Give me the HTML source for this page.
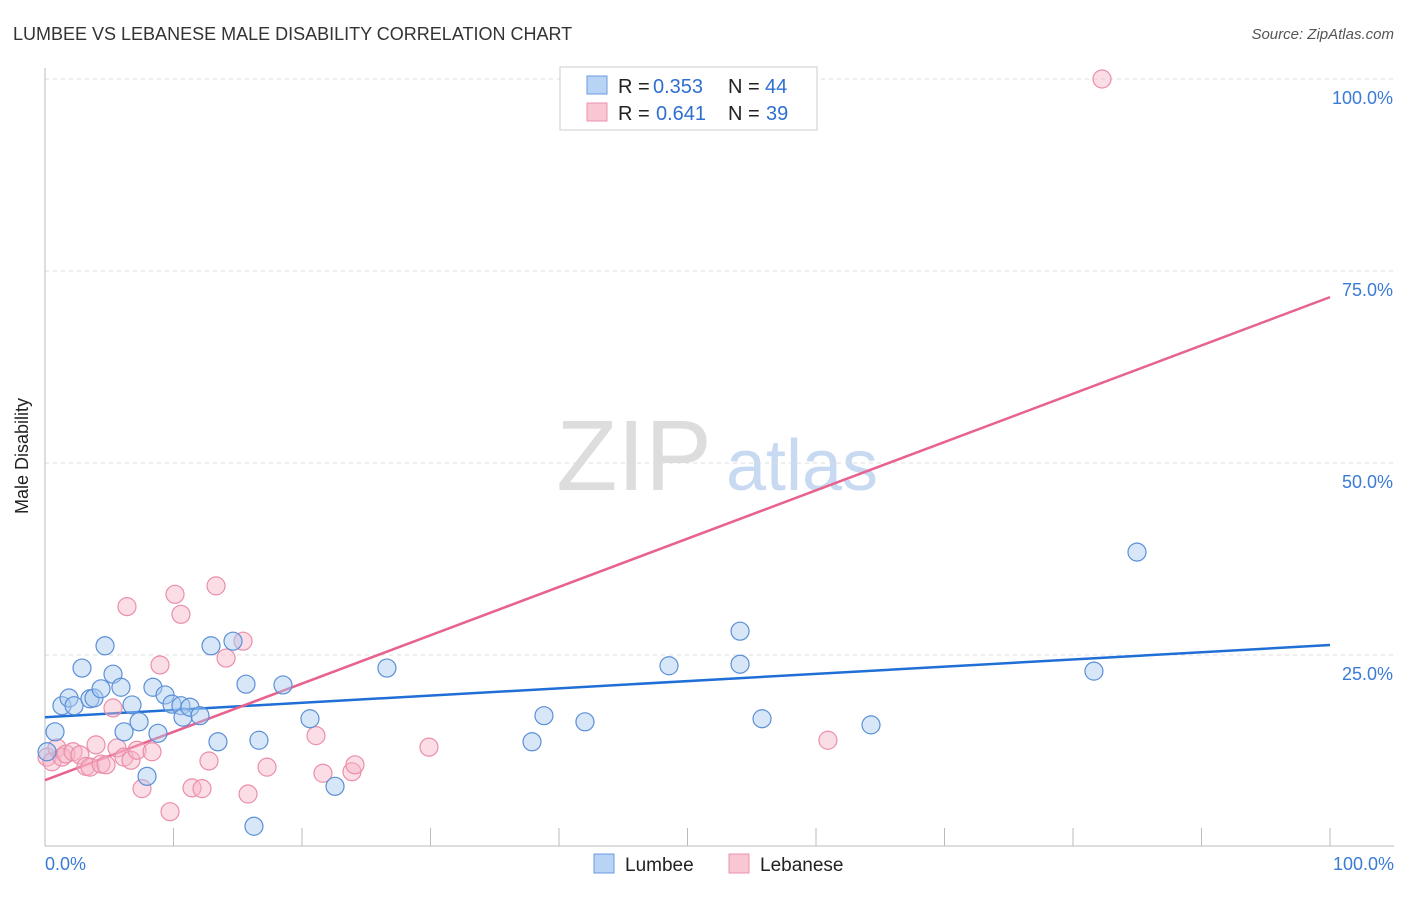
<!DOCTYPE html>
<html><head><meta charset="utf-8"><style>
body{margin:0;background:#fff;font-family:"Liberation Sans",sans-serif}
svg text{font-family:"Liberation Sans",sans-serif}
</style></head><body>
<svg id="chart" width="1406" height="892" xmlns="http://www.w3.org/2000/svg">
<text x="13" y="40" font-size="18" fill="#333">LUMBEE VS LEBANESE MALE DISABILITY CORRELATION CHART</text>
<text x="1394" y="39" font-size="15" fill="#555" text-anchor="end" font-style="italic">Source: ZipAtlas.com</text>
<text x="28" y="456" font-size="18" fill="#222" text-anchor="middle" transform="rotate(-90 28 456)">Male Disability</text>
<g>
<text x="634" y="490" font-size="100" fill="#ddd" font-family="Liberation Serif" text-anchor="middle">ZIP</text>
<text x="802" y="490" font-size="72" fill="#c8daf2" text-anchor="middle">atlas</text>
</g>
<g id="grid"></g><g id="axes"></g><g id="lines"></g><g id="pts"></g>
<g>
<rect x="560" y="67" width="257" height="63" fill="#fff" stroke="#ccc"/>
<rect x="587" y="76" width="20" height="18" fill="#b8d3f4" stroke="#6a9be0"/>
<rect x="587" y="103" width="20" height="18" fill="#f9c6d4" stroke="#ec93ad"/>
<text x="618" y="93" font-size="20" fill="#222">R =</text>
<text x="653" y="93" font-size="20" fill="#2f6fd0">0.353</text>
<text x="728" y="93" font-size="20" fill="#222">N =</text>
<text x="765" y="93" font-size="20" fill="#2f6fd0">44</text>
<text x="618" y="120" font-size="20" fill="#222">R =</text>
<text x="656" y="120" font-size="20" fill="#2f6fd0">0.641</text>
<text x="728" y="120" font-size="20" fill="#222">N =</text>
<text x="766" y="120" font-size="20" fill="#2f6fd0">39</text>
</g>
<g>
<rect x="594" y="854" width="20" height="19" fill="#b8d3f4" stroke="#6a9be0"/>
<text x="625" y="871" font-size="19" fill="#222">Lumbee</text>
<rect x="729" y="854" width="20" height="19" fill="#f9c6d4" stroke="#ec93ad"/>
<text x="760" y="871" font-size="19" fill="#222">Lebanese</text>
</g>
</svg>
<script>
const yTicks=[25,50,75,100];
const yTickLabels=["25.0%","50.0%","75.0%","100.0%"];
const xTickLabels=["0.0%","100.0%"];
const lumbeeX=[0.16,0.78,1.32,1.87,2.26,2.88,3.5,3.81,4.36,4.67,5.29,5.91,6.15,6.77,7.32,7.94,8.4,8.79,9.34,9.88,10.58,10.74,11.28,12.06,12.92,13.46,14.63,15.64,16.26,16.65,18.52,20.62,22.57,26.61,37.9,38.83,42.02,48.56,54.09,54.09,55.8,64.28,81.63,84.98];
const lumbeeY=[12.4,15.0,18.4,19.4,18.4,23.3,19.3,19.4,20.6,26.2,22.5,20.8,15.0,18.5,16.3,9.2,20.8,14.8,19.8,18.6,18.4,16.9,18.2,17.1,26.2,13.7,26.8,21.2,2.7,13.9,21.1,16.7,7.9,23.3,13.7,17.1,16.3,23.6,28.1,23.8,16.7,15.9,22.9,38.4];
const lebX=[0.16,0.54,0.93,1.32,1.63,2.18,2.72,3.19,3.5,3.97,4.36,4.75,5.29,5.6,6.38,6.15,6.69,7.16,7.55,8.33,8.95,9.73,10.12,10.58,11.44,12.22,12.76,13.31,14.09,15.41,15.8,17.28,21.09,21.63,23.89,24.12,29.88,60.93,82.26];
const lebY=[11.7,11.1,12.9,11.7,12.1,12.4,12.0,10.5,10.4,13.3,10.8,10.7,18.1,12.9,31.3,11.7,11.3,12.6,7.6,12.4,23.7,4.6,32.9,30.3,7.7,7.6,11.2,34.0,24.6,26.8,6.9,10.4,14.5,9.6,9.8,10.7,13.0,13.9,100.0];
const lumbeeTrend=[16.9,26.3];
const lebTrend=[8.7,71.6];
const NS="http://www.w3.org/2000/svg";
const sx=v=>45+v*12.85, sy=v=>847-v*7.68;
function mk(tag,attrs,parent){const e=document.createElementNS(NS,tag);for(const k in attrs)e.setAttribute(k,attrs[k]);document.getElementById(parent).appendChild(e);return e;}
yTicks.forEach((t,i)=>{
  const g=mk('line',{x1:45,x2:1394,y1:sy(t),y2:sy(t),stroke:'#ddd','stroke-dasharray':'4,4'},'grid');
  
  
  const tx=mk('text',{x:1393,y:sy(t)+25,'font-size':18,fill:'#3a7bd5','text-anchor':'end'},'grid');
  tx.textContent=yTickLabels[i];
  
  
});
const ax=mk('line',{x1:45,x2:45,y1:68,y2:846,stroke:'#bbb'},'axes');


const bx=mk('line',{x1:45,x2:1394,y1:846,y2:846,stroke:'#bbb'},'axes');


for(let i=0;i<=10;i++){const t=mk('line',{x1:sx(i*10),x2:sx(i*10),y1:828,y2:846,stroke:'#bbb'},'axes');
  
  }
[[0,'start',45],[100,'end',1394]].forEach((d,i)=>{const t=mk('text',{x:d[2],y:870,'font-size':18,fill:'#3a7bd5','text-anchor':d[1]},'axes');t.textContent=xTickLabels[i];
  
  });
function pts(X,Y,fill,stroke,name){X.forEach((x,i)=>{const c=mk('circle',{cx:sx(x),cy:sy(Y[i]),r:9,fill:fill,'fill-opacity':0.45,stroke:stroke,'stroke-width':1.2},'pts');
  
  });}
pts(lebX,lebY,'#f6b3c6','#eb8ea9','lebanese-point');
pts(lumbeeX,lumbeeY,'#a9c9f0','#5b8fd8','lumbee-point');
const l1=mk('line',{x1:sx(0),y1:sy(lumbeeTrend[0]),x2:sx(100),y2:sy(lumbeeTrend[1]),stroke:'#1f6fd6','stroke-width':2.5},'lines');


const l2=mk('line',{x1:sx(0),y1:sy(lebTrend[0]),x2:sx(100),y2:sy(lebTrend[1]),stroke:'#e8628f','stroke-width':2.5},'lines');


</script>
</body></html>
